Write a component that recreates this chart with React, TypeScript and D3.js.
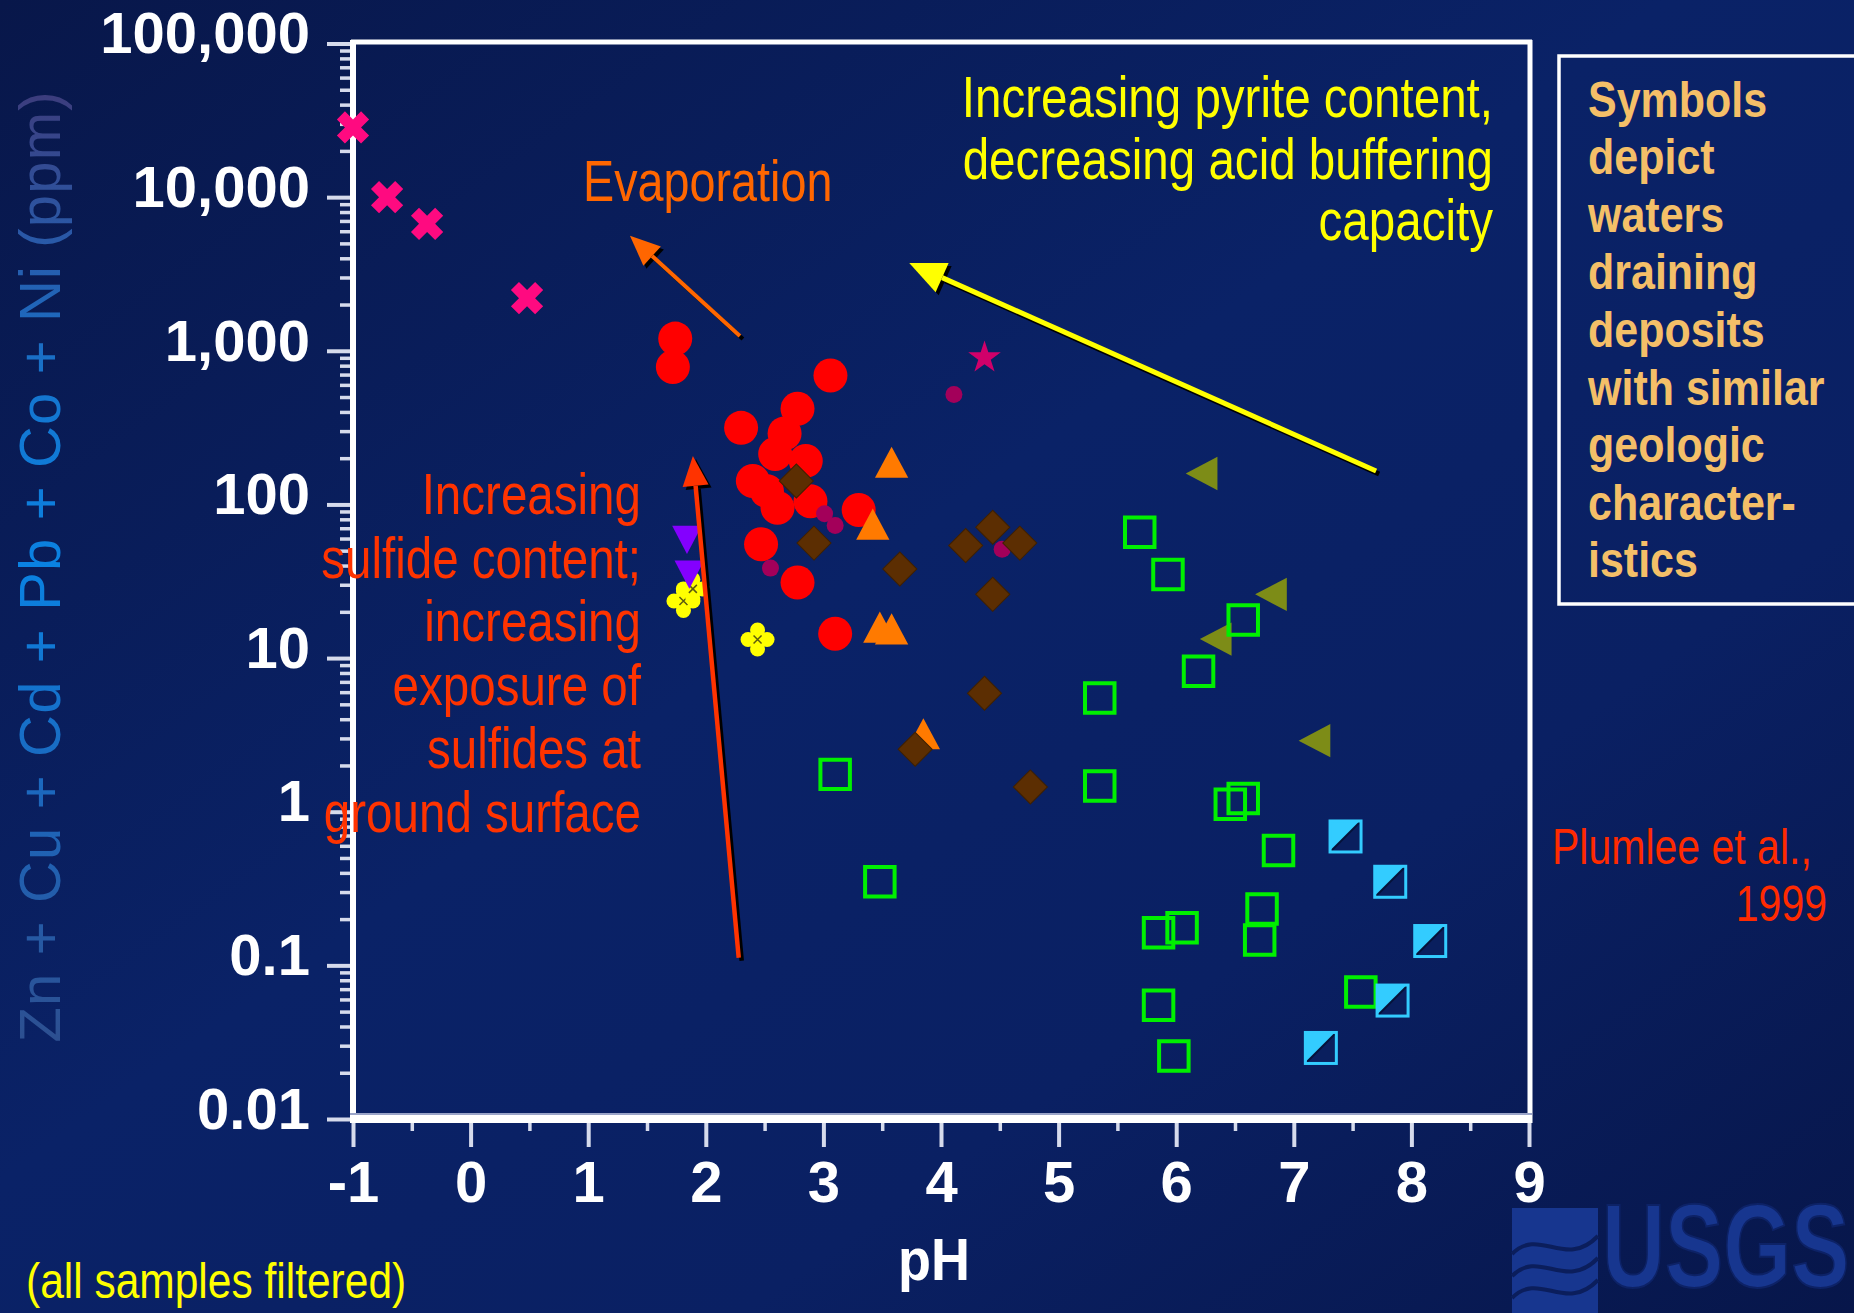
import React, { useEffect, useRef } from 'react'
import * as d3 from 'd3'

const WIDTH = 1854
const HEIGHT = 1313

const xTicks = [-1, 0, 1, 2, 3, 4, 5, 6, 7, 8, 9]
const xMinorTicks = [-0.5, 0.5, 1.5, 2.5, 3.5, 4.5, 5.5, 6.5, 7.5, 8.5]
const yTicks = [0.01, 0.1, 1, 10, 100, 1000, 10000, 100000]
const yTickLabels = ['0.01', '0.1', '1', '10', '100', '1,000', '10,000', '100,000']

// deposit groups: pH and Zn+Cu+Cd+Pb+Co+Ni (ppm)
const crossPH = [-1.0, -0.71, -0.37, 0.48]
const crossPPM = [28400, 10000, 6700, 2200]

const circlePH = [1.74, 1.72, 3.06, 2.30, 2.78, 2.67, 2.59, 2.85, 2.40, 2.52, 2.89, 2.61, 3.30, 2.47, 2.78, 3.10]
const circlePPM = [1200, 785, 690, 315, 420, 290, 213, 192, 142, 122, 105, 95, 92, 55, 31, 14.4]

const dotPH = [4.11, 3.10, 4.52, 2.55, 3.01]
const dotPPM = [520, 73, 51, 38.5, 87]

const starPH = [4.37]
const starPPM = [930]

const triUpPH = [3.58, 3.42, 3.48, 3.58, 3.85]
const triUpPPM = [187, 74, 15.8, 15.4, 3.2]

const diamondPH = [2.77, 2.92, 3.65, 4.21, 4.44, 4.67, 4.44, 4.37, 3.78, 4.76]
const diamondPPM = [142, 56, 38, 54, 71, 56, 26, 5.9, 2.55, 1.45]

const flowerPH = [1.81, 1.89, 2.44]
const flowerPPM = [23.5, 28.2, 13.2]

const triDownPH = [1.84, 1.86]
const triDownPPM = [59, 35]

const triLeftPH = [6.22, 6.81, 6.34, 7.18]
const triLeftPPM = [159, 26, 13.3, 2.9]

const squarePH = [5.69, 5.93, 6.57, 6.19, 5.35, 3.10, 5.35, 6.57, 6.46, 6.87, 3.48, 6.73, 6.71, 6.05, 5.85, 5.85, 5.98, 7.57]
const squarePPM = [66, 35, 17.7, 8.2, 5.5, 1.75, 1.47, 1.22, 1.12, 0.56, 0.35, 0.233, 0.146, 0.176, 0.163, 0.055, 0.0257, 0.067]

const halfSqPH = [7.44, 7.82, 8.16, 7.84, 7.23]
const halfSqPPM = [0.69, 0.35, 0.144, 0.059, 0.029]

// arrows: [tail pH, tail ppm, tip pH, tip ppm]
const evapArrow = [2.29, 1250, 1.355, 5600]
const pyriteArrow = [7.70, 165, 3.73, 3730]
const sulfideArrow = [2.28, 0.112, 1.89, 207]

const pyriteLines = ['Increasing pyrite content,', 'decreasing acid buffering', 'capacity']
const sulfideLines = ['Increasing', 'sulfide content;', 'increasing', 'exposure of', 'sulfides at', 'ground surface']
const legendLines = ['Symbols', 'depict', 'waters', 'draining', 'deposits', 'with similar', 'geologic', 'character-', 'istics']

const FONT = 'Liberation Sans, Arial, sans-serif'

const App = () => {
  const ref = useRef<SVGSVGElement>(null)

  useEffect(() => {
    draw()
  }, [])

  const draw = () => {
    const svg = d3.select(ref.current)
    svg.selectAll('*').remove()

    const x = d3.scaleLinear().domain([-1, 9]).range([353, 1529])
    const y = d3.scaleLog().domain([0.01, 100000]).range([1119, 43.5])

    const defs = svg.append('defs')
    const bg = defs.append('linearGradient').attr('id', 'bg')
      .attr('x1', '0').attr('y1', '0').attr('x2', '1').attr('y2', '1')
    bg.append('stop').attr('offset', '0').attr('stop-color', '#08174a')
    bg.append('stop').attr('offset', '0.45').attr('stop-color', '#0a2267')
    bg.append('stop').attr('offset', '0.7').attr('stop-color', '#0a2063')
    bg.append('stop').attr('offset', '1').attr('stop-color', '#07164a')

    const tg = defs.append('linearGradient').attr('id', 'ytitle')
      .attr('gradientUnits', 'userSpaceOnUse')
      .attr('x1', -476).attr('y1', 0).attr('x2', 476).attr('y2', 0)
    tg.append('stop').attr('offset', '0').attr('stop-color', '#2d4f90')
    tg.append('stop').attr('offset', '0.25').attr('stop-color', '#1d66bb')
    tg.append('stop').attr('offset', '0.5').attr('stop-color', '#0a82e2')
    tg.append('stop').attr('offset', '0.68').attr('stop-color', '#1476d0')
    tg.append('stop').attr('offset', '0.85').attr('stop-color', '#2a58a6')
    tg.append('stop').attr('offset', '1').attr('stop-color', '#3d3c7c')

    svg.append('rect').attr('width', WIDTH).attr('height', HEIGHT).attr('fill', 'url(#bg)')

    // axes
    const tickColor = '#d6dbec'
    const yMinor: number[] = []
    for (let e = -2; e < 5; e++) for (let k = 2; k <= 9; k++) yMinor.push(k * Math.pow(10, e))

    const yMinorG = svg.append('g').attr('transform', 'translate(353,0)')
      .call(d3.axisLeft(y).tickValues(yMinor).tickSize(13).tickFormat(() => ''))
    yMinorG.select('.domain').remove()
    yMinorG.attr('color', tickColor).selectAll('line').attr('stroke-width', 3.5)

    const yG = svg.append('g').attr('transform', 'translate(353,0)')
      .call(d3.axisLeft(y).tickValues(yTicks).tickSize(26).tickPadding(17)
        .tickFormat((d, i) => yTickLabels[i]))
    yG.select('.domain').remove()
    yG.attr('color', tickColor).selectAll('line').attr('stroke-width', 4)
    yG.selectAll('text').attr('fill', '#fff').attr('font-family', FONT).attr('font-weight', 'bold')
      .attr('font-size', 58).attr('dy', '0.16em')

    const xMinorG = svg.append('g').attr('transform', 'translate(0,1119)')
      .call(d3.axisBottom(x).tickValues(xMinorTicks).tickSize(12).tickFormat(() => ''))
    xMinorG.select('.domain').remove()
    xMinorG.attr('color', tickColor).selectAll('line').attr('stroke-width', 3.5)

    const xG = svg.append('g').attr('transform', 'translate(0,1119)')
      .call(d3.axisBottom(x).tickValues(xTicks).tickSize(28).tickFormat((d) => String(d)))
    xG.select('.domain').remove()
    xG.attr('color', tickColor).selectAll('line').attr('stroke-width', 4)
    xG.selectAll('text').attr('fill', '#fff').attr('font-family', FONT).attr('font-weight', 'bold')
      .attr('font-size', 58).attr('y', 83).attr('dy', 0)

    // frame
    svg.append('line').attr('x1', 351).attr('x2', 1532).attr('y1', 42).attr('y2', 42)
      .attr('stroke', '#fff').attr('stroke-width', 5)
    svg.append('line').attr('x1', 1530).attr('x2', 1530).attr('y1', 40).attr('y2', 1123)
      .attr('stroke', '#fff').attr('stroke-width', 5)
    svg.append('line').attr('x1', 353).attr('x2', 353).attr('y1', 40).attr('y2', 1123)
      .attr('stroke', '#fff').attr('stroke-width', 6)
    svg.append('line').attr('x1', 350).attr('x2', 1532).attr('y1', 1114).attr('y2', 1114)
      .attr('stroke', '#9aa4c8').attr('stroke-width', 2)
    svg.append('line').attr('x1', 350).attr('x2', 1532).attr('y1', 1119).attr('y2', 1119)
      .attr('stroke', '#fff').attr('stroke-width', 8)

    // axis titles
    svg.append('text').attr('transform', 'translate(60,567) rotate(-90)')
      .attr('text-anchor', 'middle').attr('font-family', FONT).attr('font-size', 58)
      .attr('textLength', 951).attr('lengthAdjust', 'spacing')
      .attr('fill', 'url(#ytitle)').text('Zn + Cu + Cd + Pb + Co + Ni (ppm)')
    svg.append('text').attr('transform', 'translate(934,1280) scale(0.9,1)')
      .attr('text-anchor', 'middle').attr('font-family', FONT).attr('font-size', 60)
      .attr('font-weight', 'bold').attr('fill', '#fff').text('pH')

    const narrow = (tx: number, ty: number, str: string, size: number, color: string,
      anchor: string, sx = 0.82, weight = 'normal') => {
      svg.append('text').attr('transform', `translate(${tx},${ty}) scale(${sx},1)`)
        .attr('text-anchor', anchor).attr('font-family', FONT).attr('font-size', size)
        .attr('font-weight', weight).attr('fill', color).text(str)
    }

    // markers
    const pts = (xs: number[], ys: number[]) => xs.map((v, i) => [x(v), y(ys[i])])
    const marks = svg.append('g')

    pts(circlePH, circlePPM).forEach(([px, py]) => {
      marks.append('circle').attr('cx', px).attr('cy', py).attr('r', 17).attr('fill', '#ff0000')
    })
    pts(dotPH, dotPPM).forEach(([px, py]) => {
      marks.append('circle').attr('cx', px).attr('cy', py).attr('r', 8.5).attr('fill', '#a3005a')
    })
    const tri = d3.symbol().type(d3.symbolTriangle).size(480)()
    pts(triUpPH, triUpPPM).forEach(([px, py]) => {
      marks.append('path').attr('d', tri).attr('transform', `translate(${px},${py + 4.8}) scale(1,1.08)`)
        .attr('fill', '#ff7a00')
    })
    const diamond = d3.symbol().type(d3.symbolSquare).size(580)()
    pts(diamondPH, diamondPPM).forEach(([px, py]) => {
      marks.append('path').attr('d', diamond).attr('transform', `translate(${px},${py}) rotate(45)`)
        .attr('fill', '#5c2e02').attr('stroke', '#3f2000').attr('stroke-width', 1)
    })
    const cross = d3.symbol().type(d3.symbolCross).size(650)()
    pts(crossPH, crossPPM).forEach(([px, py]) => {
      marks.append('path').attr('d', cross).attr('transform', `translate(${px},${py}) rotate(45)`)
        .attr('fill', '#ff0a80')
    })
    const star = d3.symbol().type(d3.symbolStar).size(330)()
    pts(starPH, starPPM).forEach(([px, py]) => {
      marks.append('path').attr('d', star).attr('transform', `translate(${px},${py + 2})`)
        .attr('fill', '#d0006a')
    })
    pts(flowerPH, flowerPPM).forEach(([px, py]) => {
      const g = marks.append('g').attr('transform', `translate(${px},${py})`)
      ;[[0, -9.5], [9.5, 0], [0, 9.5], [-9.5, 0]].forEach(([dx, dy]) => {
        g.append('circle').attr('cx', dx).attr('cy', dy).attr('r', 7.5).attr('fill', '#ffff00')
      })
      g.append('circle').attr('r', 5).attr('fill', '#ffff00')
      g.append('path').attr('d', 'M-4,-4L4,4M4,-4L-4,4').attr('stroke', '#5a5a10').attr('stroke-width', 1.5)
    })
    const triDown = d3.symbol().type(d3.symbolTriangle).size(380)()
    pts(triDownPH, triDownPPM).forEach(([px, py]) => {
      marks.append('path').attr('d', triDown).attr('transform', `translate(${px},${py - 4.5}) rotate(180) scale(1,1.1)`)
        .attr('fill', '#8400ff')
    })
    pts(triLeftPH, triLeftPPM).forEach(([px, py]) => {
      marks.append('path').attr('d', tri).attr('transform', `translate(${px + 4.8},${py}) rotate(-90) scale(1,1.1)`)
        .attr('fill', '#7d8c17')
    })
    const sq = d3.symbol().type(d3.symbolSquare).size(870)()
    pts(squarePH, squarePPM).forEach(([px, py]) => {
      marks.append('path').attr('d', sq).attr('transform', `translate(${px},${py})`)
        .attr('fill', 'none').attr('stroke', '#00f000').attr('stroke-width', 4)
    })
    const hs = 15.5
    pts(halfSqPH, halfSqPPM).forEach(([px, py]) => {
      const g = marks.append('g').attr('transform', `translate(${px},${py})`)
      g.append('rect').attr('x', -hs).attr('y', -hs).attr('width', hs * 2).attr('height', hs * 2)
        .attr('fill', '#0a1f5e')
      g.append('path').attr('d', `M${-hs},${-hs}L${hs},${-hs}L${-hs},${hs}Z`).attr('fill', '#33ccff')
      g.append('line').attr('x1', hs).attr('y1', -hs).attr('x2', -hs).attr('y2', hs)
        .attr('stroke', '#06123a').attr('stroke-width', 2)
      g.append('rect').attr('x', -hs).attr('y', -hs).attr('width', hs * 2).attr('height', hs * 2)
        .attr('fill', 'none').attr('stroke', '#33ccff').attr('stroke-width', 3)
    })

    // arrows
    const arrow = (a: number[], color: string, w: number, headLen: number, headW: number) => {
      const x0 = x(a[0]), y0 = y(a[1]), x1 = x(a[2]), y1 = y(a[3])
      const ang = Math.atan2(y1 - y0, x1 - x0)
      const bx = x1 - headLen * Math.cos(ang), by = y1 - headLen * Math.sin(ang)
      const nx = -Math.sin(ang), ny = Math.cos(ang)
      const head = `M${x1},${y1}L${bx + nx * headW / 2},${by + ny * headW / 2}L${bx - nx * headW / 2},${by - ny * headW / 2}Z`
      const g = svg.append('g')
      g.append('line').attr('x1', x0 + 3).attr('y1', y0 + 3).attr('x2', bx + 3).attr('y2', by + 3)
        .attr('stroke', '#000').attr('stroke-width', w)
      g.append('path').attr('d', head).attr('transform', 'translate(3,3)').attr('fill', '#000')
      g.append('line').attr('x1', x0).attr('y1', y0).attr('x2', bx).attr('y2', by)
        .attr('stroke', color).attr('stroke-width', w)
      g.append('path').attr('d', head).attr('fill', color)
    }
    arrow(evapArrow, '#ff6600', 4, 30, 26)
    arrow(pyriteArrow, '#ffff00', 5, 36, 32)
    arrow(sulfideArrow, '#ff3300', 4.5, 30, 26)

    // annotations
    pyriteLines.forEach((s, i) => narrow(1493, 117 + i * 61.5, s, 58, '#ffff00', 'end'))
    narrow(583, 201, 'Evaporation', 57, '#ff6600', 'start')
    sulfideLines.forEach((s, i) => narrow(641, 514 + i * 63.5, s, 58, '#ff3300', 'end'))
    narrow(1552, 864, 'Plumlee et al.,', 50, '#ff2a00', 'start')
    narrow(1827, 921, '1999', 50, '#ff2a00', 'end')
    narrow(26, 1298, '(all samples filtered)', 50, '#ffff00', 'start', 0.85)

    // legend box
    svg.append('rect').attr('x', 1559).attr('y', 56).attr('width', 320).attr('height', 548)
      .attr('fill', 'none').attr('stroke', '#fff').attr('stroke-width', 3.5)
    legendLines.forEach((s, i) => narrow(1588, 116.5 + i * 57.6, s, 50, '#f4bf68', 'start', 0.86, 'bold'))

    // USGS mark
    const logo = svg.append('g')
    logo.append('rect').attr('x', 1512).attr('y', 1208).attr('width', 86).attr('height', 105).attr('fill', '#17368f')
    ;[1240, 1262, 1284].forEach((yy) => {
      logo.append('path')
        .attr('d', `M1512,${yy + 14}C1540,${yy - 14} 1565,${yy + 30} 1598,${yy - 4}`)
        .attr('fill', 'none').attr('stroke', '#0b1e5c').attr('stroke-width', 4)
    })
    logo.append('text').attr('transform', 'translate(1602,1287) scale(0.74,1)')
      .attr('font-family', FONT).attr('font-size', 118).attr('font-weight', 'bold')
      .attr('fill', '#17368f').attr('stroke', '#0d2266').attr('stroke-width', 2).text('USGS')
  }

  return <svg ref={ref} width={WIDTH} height={HEIGHT} style={{ position: 'absolute', left: 0, top: 0 }} />
}

export default App
